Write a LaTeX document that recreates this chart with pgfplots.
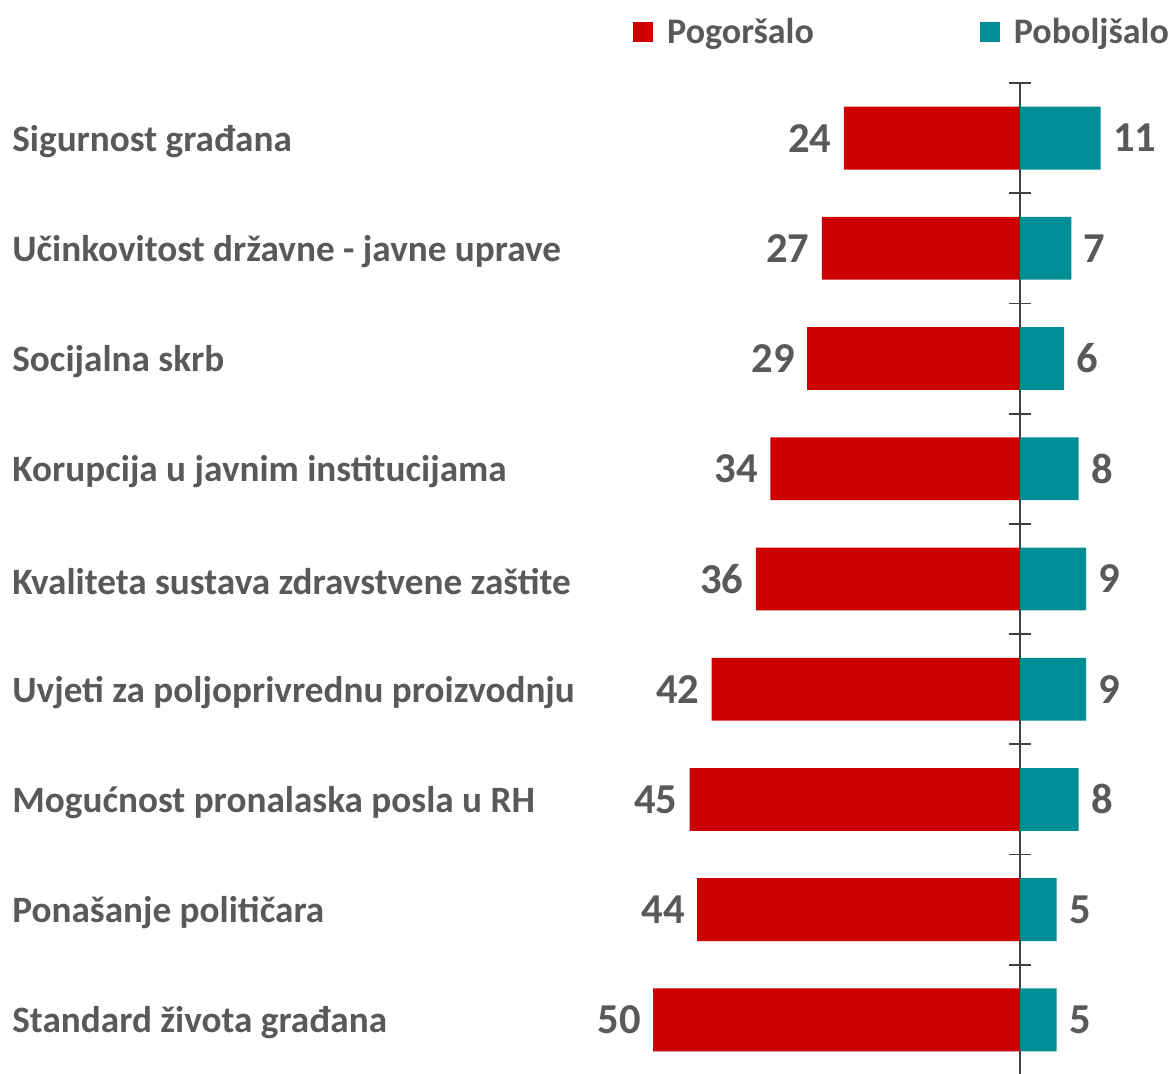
\documentclass[border=0pt]{standalone}
\usepackage{fontspec}
\setmainfont{Carlito}
\usepackage{pgfplots}
\usepackage{pgfplotstable}
\pgfplotsset{compat=1.18}

\definecolor{worse}{RGB}{204,0,0}
\definecolor{better}{RGB}{0,142,150}
\definecolor{txt}{RGB}{89,89,89}
\definecolor{axl}{RGB}{64,64,64}

% row, Pogoršalo, Poboljšalo
\pgfplotstableread{
y neg pos
1 24 11
2 27 7
3 29 6
4 34 8
5 36 9
6 42 9
7 45 8
8 44 5
9 50 5
}\datatable

\begin{document}
\begin{tikzpicture}
\useasboundingbox (0,0) rectangle (585.5pt,537pt);
\begin{axis}[
    at={(308.15pt,495.5pt)}, anchor=north west,
    scale only axis, width=275.25pt, height=496pt,
    xmin=-55, xmax=20, ymin=0.5, ymax=9.5,
    y dir=reverse,
    axis x line=none,
    axis y line=center,
    y axis line style={-, axl, line width=0.9pt},
    xtick=\empty,
    ytick={0.5,1.5,...,8.5},
    yticklabels={},
    major tick length=11pt,
    tick align=center,
    ytick style={axl, line width=0.9pt, xshift=5.5pt},
    extra y ticks={1,2,...,9},
    extra y tick style={major tick length=0pt},
    extra y tick labels={Sigurnost građana,Učinkovitost državne - javne uprave,Socijalna skrb,Korupcija u javnim institucijama,Kvaliteta sustava zdravstvene zaštite,Uvjeti za poljoprivrednu proizvodnju,Mogućnost pronalaska posla u RH,Ponašanje političara,Standard života građana},
    yticklabel style={anchor=west, inner sep=0pt, xshift=-504pt, yshift=-1.5pt, font=\fontsize{18.6}{21}\selectfont\bfseries, text=txt},
    xbar, bar width=0.57, bar shift=0pt,
    /pgf/number format/assume math mode=true,
    nodes near coords,
    point meta=explicit,
    every node near coord/.append style={font=\fontsize{21.3}{24}\selectfont\bfseries, text=txt, inner sep=0pt},
    legend style={at={(0.03,1.070)}, anchor=north west, draw=none, fill=none, inner sep=0pt,
        font=\fontsize{18}{21}\selectfont\bfseries, text=txt, legend columns=2,
        /tikz/every odd column/.append style={column sep=5pt},
        /tikz/every even column/.append style={column sep=81pt}},
    legend image code/.code={\fill[#1] (0pt,-5pt) rectangle (10pt,5pt);},
]
\addplot[fill=worse, draw=none, every node near coord/.append style={anchor=east, xshift=-6pt}]
    table[x expr=-\thisrow{neg}, y=y, meta=neg] {\datatable};
\addlegendentry{Pogoršalo}
\addplot[fill=better, draw=none, every node near coord/.append style={anchor=west, xshift=6pt}]
    table[x=pos, y=y, meta=pos] {\datatable};
\addlegendentry{Poboljšalo}
\end{axis}
\end{tikzpicture}
\end{document}
